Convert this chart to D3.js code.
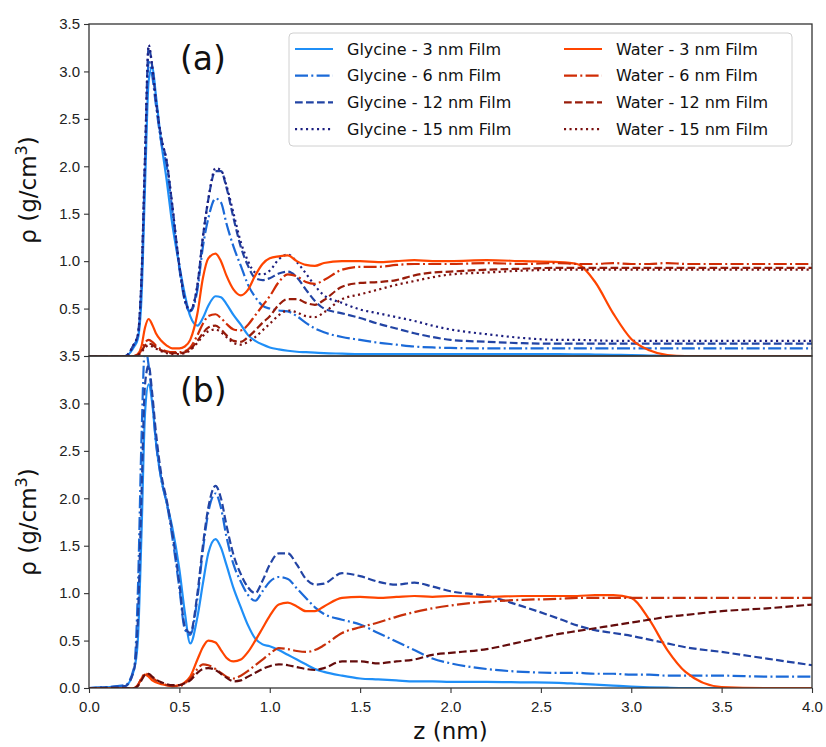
<!DOCTYPE html>
<html>
<head>
<meta charset="utf-8">
<script src="https://cdn.jsdelivr.net/npm/d3@7"></script>
<style>
  body { margin: 0; background: #fff; }
  svg { font-family: "DejaVu Sans", sans-serif; }
</style>
</head>
<body>
<div id="cont"></div>
<script>
// z grid (nm) shared by every series
var zGrid = [0, 0.2, 0.25, 0.27, 0.29, 0.31, 0.33, 0.35, 0.37, 0.4, 0.43, 0.46, 0.5, 0.53, 0.56, 0.6,
  0.63, 0.66, 0.7, 0.73, 0.76, 0.8, 0.84, 0.88, 0.92, 0.96, 1.0, 1.05, 1.1, 1.15, 1.2, 1.25, 1.3,
  1.4, 1.5, 1.6, 1.7, 1.8, 1.9, 2.0, 2.2, 2.4, 2.6, 2.7, 2.8, 2.9, 3.0, 3.1, 3.2, 3.3, 3.5, 3.75, 4.0];

// panel (a)
var gly3a = [0, 0, 0.1, 0.18, 0.6, 1.8, 2.9, 3.05, 2.75, 2.25, 1.85, 1.4, 0.95, 0.65, 0.42, 0.32,
  0.4, 0.53, 0.63, 0.62, 0.55, 0.43, 0.33, 0.22, 0.16, 0.12, 0.09, 0.07, 0.055, 0.045, 0.04, 0.035, 0.03,
  0.025, 0.02, 0.02, 0.02, 0.02, 0.02, 0.02, 0.02, 0.02, 0.02, 0.018, 0.015, 0.012, 0.01, 0.005, 0, 0, 0, 0, 0];
var gly6a = [0, 0, 0.12, 0.2, 0.75, 2.0, 3.1, 2.95, 2.65, 2.25, 2.0, 1.55, 0.92, 0.58, 0.47, 0.7,
  1.15, 1.45, 1.66, 1.62, 1.4, 1.15, 0.95, 0.75, 0.62, 0.53, 0.5, 0.48, 0.47, 0.42, 0.35, 0.29, 0.25,
  0.2, 0.17, 0.14, 0.12, 0.1, 0.09, 0.085, 0.08, 0.08, 0.08, 0.08, 0.08, 0.08, 0.08, 0.08, 0.08, 0.08, 0.08, 0.08, 0.08];
var gly12a = [0, 0, 0.13, 0.22, 0.8, 2.1, 3.25, 3.05, 2.7, 2.3, 2.05, 1.6, 0.95, 0.6, 0.48, 0.75,
  1.25, 1.65, 1.95, 1.95, 1.78, 1.45, 1.15, 0.95, 0.82, 0.8, 0.82, 0.87, 0.89, 0.83, 0.7, 0.58, 0.5,
  0.45, 0.4, 0.34, 0.29, 0.24, 0.2, 0.17, 0.15, 0.135, 0.13, 0.13, 0.13, 0.13, 0.13, 0.13, 0.13, 0.13, 0.13, 0.13, 0.13];
var gly15a = [0, 0, 0.13, 0.22, 0.8, 2.1, 3.28, 3.05, 2.7, 2.3, 2.05, 1.6, 0.95, 0.6, 0.48, 0.75,
  1.25, 1.65, 1.98, 1.96, 1.8, 1.5, 1.2, 1.0, 0.88, 0.86, 0.9, 1.02, 1.07, 0.99, 0.87, 0.74, 0.64,
  0.56, 0.49, 0.45, 0.41, 0.37, 0.32, 0.28, 0.23, 0.19, 0.17, 0.17, 0.165, 0.16, 0.16, 0.16, 0.16, 0.16, 0.16, 0.16, 0.16];
var wat3a = [0, 0, 0, 0.02, 0.1, 0.3, 0.39, 0.33, 0.24, 0.16, 0.11, 0.08, 0.08, 0.1, 0.17, 0.45,
  0.82, 1.03, 1.08, 1.0, 0.85, 0.7, 0.64, 0.7, 0.85, 0.97, 1.03, 1.05, 1.06, 1.0, 0.96, 0.95, 0.98,
  1.0, 1.0, 0.99, 1.0, 1.01, 1.0, 1.0, 1.01, 1.0, 0.99, 0.97, 0.78, 0.45, 0.18, 0.06, 0.01, 0, 0, 0, 0];
var wat6a = [0, 0, 0, 0.01, 0.06, 0.14, 0.17, 0.15, 0.11, 0.07, 0.05, 0.04, 0.04, 0.05, 0.09, 0.22,
  0.34, 0.42, 0.44, 0.4, 0.34, 0.28, 0.27, 0.33, 0.43, 0.53, 0.63, 0.78, 0.86, 0.84, 0.78, 0.76, 0.8,
  0.91, 0.94, 0.94, 0.96, 0.97, 0.97, 0.97, 0.98, 0.97, 0.98, 0.97, 0.97, 0.98, 0.97, 0.97, 0.98, 0.97, 0.97, 0.97, 0.97];
var wat12a = [0, 0, 0, 0.01, 0.05, 0.11, 0.13, 0.12, 0.09, 0.06, 0.04, 0.03, 0.03, 0.04, 0.07, 0.16,
  0.24, 0.3, 0.32, 0.28, 0.22, 0.16, 0.15, 0.2, 0.27, 0.35, 0.42, 0.54, 0.6, 0.6, 0.56, 0.54, 0.59,
  0.73, 0.77, 0.78, 0.8, 0.85, 0.88, 0.89, 0.91, 0.92, 0.93, 0.93, 0.93, 0.93, 0.93, 0.93, 0.93, 0.93, 0.93, 0.93, 0.93];
var wat15a = [0, 0, 0, 0.01, 0.04, 0.09, 0.11, 0.1, 0.08, 0.05, 0.03, 0.02, 0.02, 0.03, 0.06, 0.14,
  0.21, 0.26, 0.28, 0.25, 0.2, 0.14, 0.12, 0.15, 0.2, 0.27, 0.34, 0.43, 0.48, 0.46, 0.42, 0.41, 0.46,
  0.6, 0.65, 0.7, 0.75, 0.79, 0.83, 0.86, 0.88, 0.9, 0.91, 0.91, 0.91, 0.91, 0.91, 0.91, 0.91, 0.91, 0.91, 0.91, 0.91];

// panel (b)
var gly3b = [0, 0.02, 0.2, 0.5, 1.6, 2.9, 3.2, 3.0, 2.6, 2.2, 1.95, 1.7, 1.25, 0.8, 0.47, 0.75,
  1.1, 1.42, 1.57, 1.48, 1.3, 1.05, 0.85, 0.66, 0.52, 0.46, 0.44, 0.4, 0.35, 0.3, 0.25, 0.2, 0.17,
  0.13, 0.1, 0.09, 0.08, 0.07, 0.07, 0.065, 0.065, 0.06, 0.055, 0.045, 0.035, 0.025, 0.015, 0.008, 0.003, 0, 0, 0, 0];
var gly6b = [0, 0.03, 0.22, 1.0, 2.6, 3.6, 3.4, 3.05, 2.6, 2.2, 1.95, 1.6, 1.05, 0.62, 0.56, 0.95,
  1.45, 1.85, 2.05, 1.9, 1.6, 1.3, 1.12, 0.98, 0.92, 1.02, 1.12, 1.17, 1.15, 1.05, 0.95, 0.85, 0.78,
  0.72, 0.67, 0.58, 0.49, 0.4, 0.31, 0.26, 0.2, 0.17, 0.16, 0.16, 0.15, 0.15, 0.14, 0.14, 0.13, 0.13, 0.13, 0.12, 0.12];
var gly12b = [0, 0.02, 0.2, 0.7, 2.0, 3.2, 3.4, 3.1, 2.7, 2.25, 1.98, 1.65, 1.1, 0.65, 0.58, 1.0,
  1.5, 1.9, 2.13, 2.0, 1.72, 1.4, 1.2, 1.06, 1.0, 1.13, 1.3, 1.42, 1.42, 1.3, 1.15, 1.09, 1.1,
  1.21, 1.18, 1.12, 1.09, 1.11, 1.07, 1.02, 0.97, 0.86, 0.73, 0.66, 0.61, 0.58, 0.55, 0.51, 0.47, 0.43, 0.38, 0.31, 0.24];
var wat3b = [0, 0, 0, 0.03, 0.1, 0.14, 0.12, 0.08, 0.06, 0.04, 0.03, 0.02, 0.03, 0.06, 0.12, 0.3,
  0.43, 0.5, 0.48, 0.4, 0.32, 0.28, 0.3, 0.38, 0.5, 0.63, 0.76, 0.88, 0.9, 0.86, 0.81, 0.81, 0.86,
  0.95, 0.96, 0.95, 0.96, 0.97, 0.96, 0.97, 0.96, 0.97, 0.97, 0.97, 0.98, 0.98, 0.95, 0.72, 0.4, 0.17, 0.01, 0, 0];
var wat6b = [0, 0, 0, 0.03, 0.1, 0.15, 0.14, 0.11, 0.08, 0.05, 0.03, 0.02, 0.02, 0.05, 0.1, 0.2,
  0.25, 0.24, 0.2, 0.16, 0.12, 0.1, 0.13, 0.18, 0.24, 0.3, 0.36, 0.42, 0.41, 0.39, 0.38, 0.4, 0.45,
  0.58, 0.64, 0.69, 0.75, 0.8, 0.84, 0.87, 0.91, 0.93, 0.94, 0.95, 0.95, 0.95, 0.95, 0.95, 0.95, 0.95, 0.95, 0.95, 0.95];
var wat12b = [0, 0, 0, 0.02, 0.08, 0.14, 0.15, 0.12, 0.09, 0.06, 0.04, 0.03, 0.03, 0.05, 0.08, 0.16,
  0.2, 0.21, 0.19, 0.15, 0.11, 0.07, 0.08, 0.12, 0.16, 0.2, 0.23, 0.25, 0.24, 0.22, 0.2, 0.19, 0.21,
  0.28, 0.28, 0.26, 0.28, 0.3, 0.35, 0.37, 0.41, 0.49, 0.57, 0.6, 0.63, 0.66, 0.69, 0.72, 0.75, 0.77, 0.81, 0.84, 0.88];

var yTicks = [0, 0.5, 1.0, 1.5, 2.0, 2.5, 3.0, 3.5];
var xTicks = [0, 0.5, 1.0, 1.5, 2.0, 2.5, 3.0, 3.5, 4.0];

var dashes = {solid: null, dashdot: "13,3.3,2,3.3", dashed: "7.7,3.3", dotted: "2.1,3.4"};

var seriesA = [
  {name: "Glycine - 3 nm Film", v: gly3a, color: "#1f8ff7", dash: "solid"},
  {name: "Glycine - 6 nm Film", v: gly6a, color: "#1b6ad8", dash: "dashdot"},
  {name: "Glycine - 12 nm Film", v: gly12a, color: "#2244a4", dash: "dashed"},
  {name: "Glycine - 15 nm Film", v: gly15a, color: "#1c1f80", dash: "dotted"},
  {name: "Water - 3 nm Film", v: wat3a, color: "#ff4500", dash: "solid"},
  {name: "Water - 6 nm Film", v: wat6a, color: "#d02c05", dash: "dashdot"},
  {name: "Water - 12 nm Film", v: wat12a, color: "#981c0a", dash: "dashed"},
  {name: "Water - 15 nm Film", v: wat15a, color: "#7a1010", dash: "dotted"}
];
var seriesB = [
  {v: gly3b, color: "#1f8ff7", dash: "solid"},
  {v: gly6b, color: "#1b6ad8", dash: "dashdot"},
  {v: gly12b, color: "#2244a4", dash: "dashed"},
  {v: wat3b, color: "#ff4500", dash: "solid"},
  {v: wat6b, color: "#c8300a", dash: "dashdot"},
  {v: wat12b, color: "#640c0c", dash: "dashed"}
];

var W = 826, H = 747;
var left = 89, right = 812, topA = 24, midY = 356, botB = 688;

var svg = d3.select("#cont").append("svg")
    .attr("width", W)
    .attr("height", H);

var x = d3.scaleLinear().domain([0, 4]).range([left, right]);
var yA = d3.scaleLinear().domain([0, 3.5]).range([midY, topA]);
var yB = d3.scaleLinear().domain([0, 3.5]).range([botB, midY]);

function drawPanel(id, y, series, label, showX) {
  var g = svg.append("g");

  g.append("clipPath").attr("id", "clip" + id)
    .append("rect")
      .attr("x", left).attr("y", y.range()[1])
      .attr("width", right - left).attr("height", y.range()[0] - y.range()[1]);

  var line = d3.line()
      .x(function(d, i) { return x(zGrid[i]); })
      .y(function(d) { return y(d); })
      .curve(d3.curveMonotoneX);

  g.append("g").attr("clip-path", "url(#clip" + id + ")")
    .selectAll("path")
    .data(series)
    .enter().append("path")
      .attr("d", function(d) { return line(d.v); })
      .attr("fill", "none")
      .attr("stroke", function(d) { return d.color; })
      .attr("stroke-width", 2.2)
      .attr("stroke-linejoin", "round")
      .attr("stroke-dasharray", function(d) { return dashes[d.dash]; });

  // y axis
  var ya = g.append("g")
      .attr("transform", "translate(" + left + ",0)")
      .call(d3.axisLeft(y).tickValues(yTicks).tickFormat(d3.format(".1f")).tickSize(5).tickPadding(4));
  ya.select(".domain").remove();
  ya.selectAll("text").style("font-size", "15px").attr("fill", "#222");
  ya.selectAll("line").attr("stroke", "#333").attr("stroke-width", 1.1);
  if (id === "a") ya.selectAll(".tick").filter(function(d) { return d === 0; }).remove();

  if (showX) {
    var xa = g.append("g")
        .attr("transform", "translate(0," + y.range()[0] + ")")
        .call(d3.axisBottom(x).tickValues(xTicks).tickFormat(d3.format(".1f")).tickSize(5).tickPadding(8));
    xa.select(".domain").remove();
    xa.selectAll("text").style("font-size", "15px").attr("fill", "#222");
    xa.selectAll("line").attr("stroke", "#333").attr("stroke-width", 1.1);
  }

  // frame
  g.append("rect")
      .attr("x", left).attr("y", y.range()[1])
      .attr("width", right - left).attr("height", y.range()[0] - y.range()[1])
      .attr("fill", "none")
      .attr("stroke", "#333")
      .attr("stroke-width", 1.3);

  g.append("text")
      .attr("x", 180).attr("y", y.range()[1] + 46)
      .style("font-size", "33px")
      .attr("fill", "#111")
      .text(label);

  var cy = (y.range()[0] + y.range()[1]) / 2;
  var yl = g.append("text")
      .attr("transform", "translate(36," + cy + ") rotate(-90)")
      .attr("text-anchor", "middle")
      .style("font-size", "23px")
      .attr("fill", "#111");
  yl.append("tspan").text("ρ (g/cm");
  yl.append("tspan").attr("dy", -9).style("font-size", "16px").text("3");
  yl.append("tspan").attr("dy", 9).text(")");
}

drawPanel("a", yA, seriesA, "(a)", false);
drawPanel("b", yB, seriesB, "(b)", true);

// x label
svg.append("text")
    .attr("x", (left + right) / 2).attr("y", 739)
    .attr("text-anchor", "middle")
    .style("font-size", "23px")
    .attr("fill", "#111")
    .text("z (nm)");

// legend
var leg = svg.append("g");
leg.append("rect")
    .attr("x", 289).attr("y", 33).attr("width", 503).attr("height", 113)
    .attr("rx", 4)
    .attr("fill", "#fff").attr("fill-opacity", 0.8)
    .attr("stroke", "#d0d0d0");

var items = leg.selectAll("g.item")
    .data(seriesA)
  .enter().append("g")
    .attr("class", "item")
    .attr("transform", function(d, i) {
      var col = i < 4 ? 0 : 1, row = i % 4;
      return "translate(" + (col ? 564 : 295) + "," + (49 + row * 26.7) + ")";
    });
items.append("line")
    .attr("x1", 0).attr("x2", 38)
    .attr("stroke", function(d) { return d.color; })
    .attr("stroke-width", 2.2)
    .attr("stroke-dasharray", function(d) { return dashes[d.dash]; });
items.append("text")
    .attr("x", 52).attr("dy", "0.35em")
    .style("font-size", "16px")
    .attr("fill", "#111")
    .text(function(d) { return d.name; });
</script>
</body>
</html>
